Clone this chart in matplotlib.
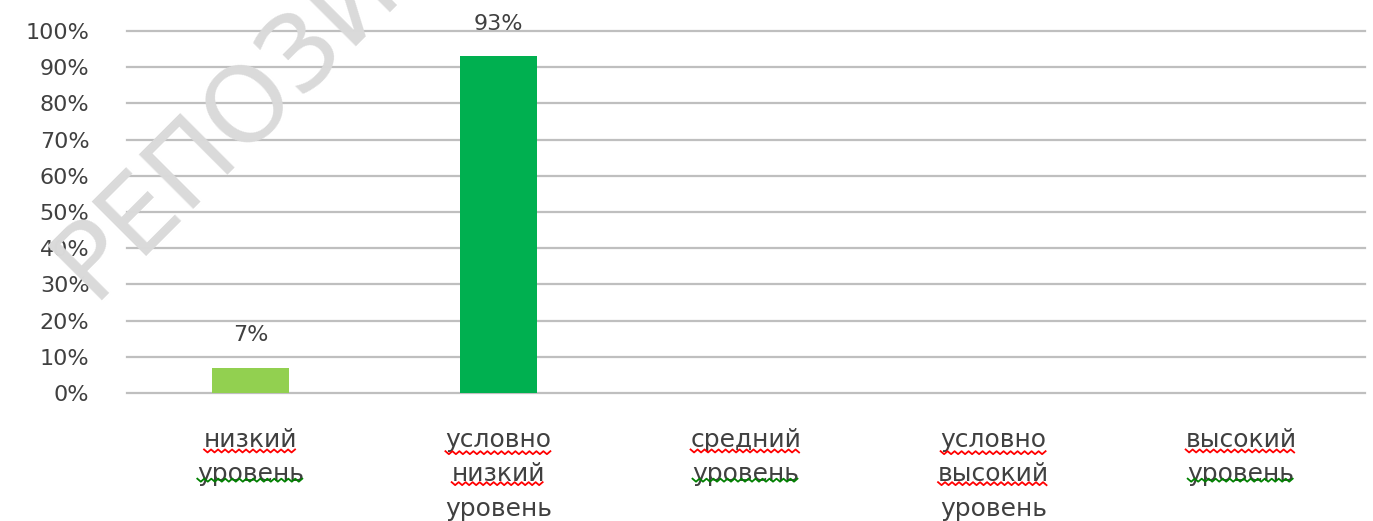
import numpy as np
from matplotlib import pyplot as plt
from matplotlib.lines import Line2D

categories = ['низкий\nуровень', 'условно\nнизкий\nуровень', 'средний\nуровень',
              'условно\nвысокий\nуровень', 'высокий\nуровень']
values = [7, 93, 0, 0, 0]
value_labels = ['7%', '93%', '', '', '']
colors = ['#92D050', '#00B050', '#00B050', '#00B050', '#00B050']
yticks = list(range(0, 101, 10))
# spellcheck underline colour per label line (r = red, g = green, None = nothing)
spell = [['r', 'g'], ['r', 'r', None], ['r', 'g'], ['r', 'r', None], ['r', 'g']]

W, H = 1373, 521
fig = plt.figure(figsize=(W/100, H/100), dpi=100)
ax = fig.add_axes([127/W, 1-393/H, (1365-127)/W, (393-31)/H])

x = np.arange(len(categories))
ax.bar(x, values, width=0.31, color=colors, zorder=3)

for xi, v, lab in zip(x, values, value_labels):
    if lab:
        ax.annotate(lab, (xi, v), xytext=(0, 16), textcoords='offset points',
                    ha='center', va='bottom', fontsize=16, color='#404040')

ax.set_xlim(-0.5, len(categories) - 0.5)
ax.set_ylim(0, 100)
ax.set_yticks(yticks)
ax.set_yticklabels([f'{t}%' for t in yticks], fontsize=16, color='#404040')
ax.set_xticks(x)
ax.set_xticklabels(categories, fontsize=18, color='#404040', linespacing=1.55, va='top')
ax.tick_params(axis='both', length=0)
ax.tick_params(axis='y', pad=27)
ax.tick_params(axis='x', pad=25)
ax.yaxis.grid(True, color='#BFBFBF', linewidth=1.6, zorder=0)
for gl in ax.get_ygridlines():
    gl.set_clip_on(False)
for s in ax.spines.values():
    s.set_visible(False)

# watermark
fig.text(92/W, 1-300/H, 'РЕПОЗИТОРИЙ', rotation=45, rotation_mode='anchor',
         ha='left', va='baseline', fontsize=76, color='#dadada', zorder=0)

# wavy spellcheck underlines under the category labels
fig.canvas.draw()
r = fig.canvas.get_renderer()
for lab, flags in zip(ax.get_xticklabels(), spell):
    bb = lab.get_window_extent(r)
    lines = lab.get_text().split('\n')
    lh = bb.height / len(lines)
    xc = (bb.x0 + bb.x1) / 2
    for i, (ln, f) in enumerate(zip(lines, flags)):
        if f is None:
            continue
        w, h, d = r.get_text_width_height_descent(ln, lab.get_fontproperties(), ismath=False)
        xs = np.arange(xc - w/2, xc + w/2 + 0.1, 3.5)
        base = bb.y1 - (i + 1) * lh + 6
        ys = base + np.where(np.arange(len(xs)) % 2 == 0, 1.5, -1.5)
        fig.add_artist(Line2D(xs / W, ys / H, transform=fig.transFigure,
                              color='#FF0000' if f == 'r' else '#008000', linewidth=1.3))

fig.savefig('out.png', dpi=100)
